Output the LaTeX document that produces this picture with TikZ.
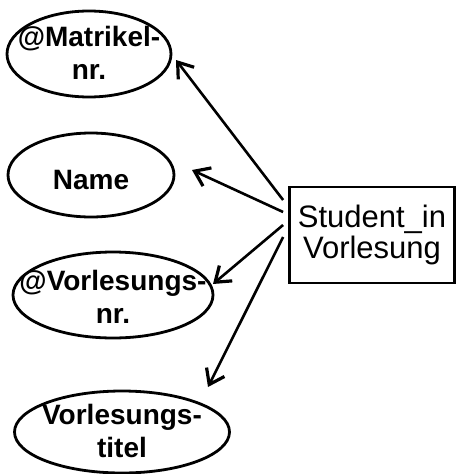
\documentclass[tikz,border=0pt]{standalone}
\usepackage{fontspec}
\setmainfont{Liberation Sans}
\usetikzlibrary{arrows.meta,shapes.geometric}
\begin{document}
\begin{tikzpicture}[x=1pt,y=-1pt,
  attr/.style={draw,ellipse,line width=2.8pt,inner sep=0pt},
  attrtext/.style={font=\fontsize{28}{33}\selectfont\bfseries,align=center,inner sep=0pt},
  entity/.style={draw,rectangle,line width=2.8pt,minimum width=165pt,minimum height=96pt,inner sep=0pt,font=\fontsize{31}{31}\selectfont,align=center},
  arr/.style={line width=2.6pt,-{Straight Barb[length=14pt,width=20pt,line width=3.2pt]}}]
  \useasboundingbox (0,0) rectangle (457,474);
  % attributes: outlines
  \node[attr,minimum width=164pt,minimum height=86pt] (mnr) at (89,54) {};
  \node[attr,minimum width=166pt,minimum height=84pt] (name) at (91,175) {};
  \node[attr,minimum width=200pt,minimum height=86pt] (vnr) at (113,295) {};
  \node[attr,minimum width=215pt,minimum height=82pt] (vt) at (122,432) {};
  % attributes: labels
  \node[attrtext] (mnrl) at ([yshift=1pt]mnr.center) {@Matrikel-\\nr.};
  \node[attrtext] (namel) at ([yshift=-5pt]name.center) {Name};
  \node[attrtext] (vnrl) at ([yshift=-2pt]vnr.center) {@Vorlesungs-\\nr.};
  \node[attrtext] (vtl) at ([yshift=1pt]vt.center) {Vorlesungs-\\titel};
  % relationship
  \node[entity] (rel) at (372,235) {Student\_in\\Vorlesung};
  % arrow tips
  \coordinate (t1) at (176,60);
  \coordinate (t2) at (192,170);
  \coordinate (t3) at (213,284);
  \coordinate (t4) at (208,387);
  \draw[arr] ([shift={(-5,-35)}]rel.west) -- (t1);
  \draw[arr] ([shift={(-5,-23)}]rel.west) -- (t2);
  \draw[arr] ([shift={(-5,-10)}]rel.west) -- (t3);
  \draw[arr] ([shift={(-5,2)}]rel.west) -- (t4);
\end{tikzpicture}
\end{document}
